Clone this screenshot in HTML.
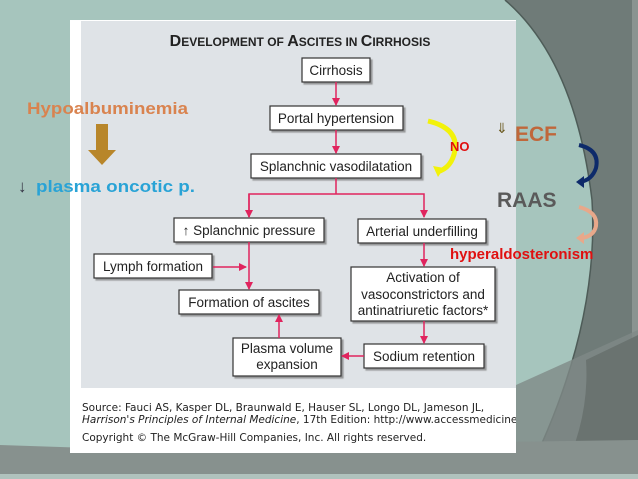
<!DOCTYPE html>
<html><head><style>
body{margin:0;width:638px;height:479px;overflow:hidden;background:#a6c5bd;}
</style></head><body>
<svg width="638" height="479" viewBox="0 0 638 479" xmlns="http://www.w3.org/2000/svg" style="position:absolute;left:0;top:0">
<defs>
<marker id="a" markerWidth="8" markerHeight="8" refX="7" refY="4" orient="auto" markerUnits="userSpaceOnUse"><path d="M0,0 L8,4 L0,8 z" fill="#e0245e"/></marker>
<filter id="s"><feDropShadow dx="2" dy="2" stdDeviation="0.6" flood-color="#777" flood-opacity="0.7"/></filter>
<clipPath id="c"><rect x="70" y="20" width="446" height="433"/></clipPath>
</defs>
<rect width="638" height="479" fill="#a6c5bd"/>
<path d="M505,0 Q575,60 592,200 Q600,330 525,479 L638,479 L638,0 Z" fill="#6f7b78"/>
<path d="M505,0 Q575,60 592,200 Q600,330 525,479" fill="none" stroke="#4e5c58" stroke-width="1.5"/>
<rect x="632" y="0" width="6" height="479" fill="#8a9491"/>
<path d="M516,385 L638,330 L638,479 L516,479 Z" fill="#7f8a87" opacity="0.8"/>
<path d="M586,360 L638,335 L638,479 L560,479 Q590,420 586,360Z" fill="#6a7370"/>
<path d="M0,445 L90,448 L638,440 L638,479 L0,479 Z" fill="#87918e"/>
<rect x="0" y="474" width="638" height="5" fill="#b0c2bd"/>
<rect x="70" y="20" width="446" height="433" fill="#ffffff"/>
<rect x="81" y="21" width="435" height="367" fill="#dfe3e7"/>
<text x="300" y="46" text-anchor="middle" font-family="Liberation Sans,sans-serif" font-weight="bold" fill="#222"><tspan font-size="16">D</tspan><tspan font-size="12">EVELOPMENT OF </tspan><tspan font-size="16">A</tspan><tspan font-size="12">SCITES IN </tspan><tspan font-size="16">C</tspan><tspan font-size="12">IRRHOSIS</tspan></text>
<g fill="#fff" stroke="#333" stroke-width="1.2" filter="url(#s)">
<rect x="302" y="58" width="68" height="24"/>
<rect x="270" y="106" width="133" height="24"/>
<rect x="251" y="154" width="170" height="24"/>
<rect x="174" y="218" width="150" height="24"/>
<rect x="358" y="219" width="128" height="24"/>
<rect x="94" y="254" width="118" height="24"/>
<rect x="179" y="290" width="140" height="24"/>
<rect x="351" y="267" width="144" height="54"/>
<rect x="233" y="338" width="108" height="38"/>
<rect x="364" y="344" width="120" height="24"/>
</g>
<g font-family="Liberation Sans,sans-serif" font-size="13.5" fill="#222" text-anchor="middle">
<text x="336" y="75">Cirrhosis</text>
<text x="336" y="123">Portal hypertension</text>
<text x="336" y="171">Splanchnic vasodilatation</text>
<text x="249" y="235">↑ Splanchnic pressure</text>
<text x="422" y="236">Arterial underfilling</text>
<text x="153" y="271">Lymph formation</text>
<text x="249" y="307">Formation of ascites</text>
<text x="423" y="282">Activation of</text>
<text x="423" y="299">vasoconstrictors and</text>
<text x="423" y="315">antinatriuretic factors*</text>
<text x="287" y="353">Plasma volume</text>
<text x="287" y="369">expansion</text>
<text x="424" y="361">Sodium retention</text>
</g>
<g stroke="#e0245e" stroke-width="1.5" fill="none">
<line x1="336" y1="82" x2="336" y2="105" marker-end="url(#a)"/>
<line x1="336" y1="130" x2="336" y2="153" marker-end="url(#a)"/>
<line x1="336" y1="178" x2="336" y2="194"/>
<polyline points="249,217 249,194 424,194 424,217" marker-end="url(#a)"/>
<line x1="249" y1="194" x2="249" y2="217" marker-end="url(#a)"/>
<line x1="249" y1="242" x2="249" y2="289" marker-end="url(#a)"/>
<line x1="213" y1="267" x2="246" y2="267" marker-end="url(#a)"/>
<line x1="424" y1="243" x2="424" y2="266" marker-end="url(#a)"/>
<line x1="424" y1="321" x2="424" y2="343" marker-end="url(#a)"/>
<line x1="364" y1="356" x2="342" y2="356" marker-end="url(#a)"/>
<line x1="279" y1="338" x2="279" y2="315" marker-end="url(#a)"/>
</g>
<g font-family="DejaVu Sans,sans-serif" font-size="10.5" fill="#222" clip-path="url(#c)">
<text x="82" y="411">Source: Fauci AS, Kasper DL, Braunwald E, Hauser SL, Longo DL, Jameson JL,</text>
<text x="82" y="423"><tspan font-style="italic">Harrison's Principles of Internal Medicine</tspan>, 17th Edition: http://www.accessmedicine</text>
<text x="82" y="441">Copyright © The McGraw-Hill Companies, Inc. All rights reserved.</text>
</g>
<text x="27" y="114" font-family="Liberation Sans,sans-serif" font-weight="bold" font-size="17" fill="#d9834f" textLength="161" lengthAdjust="spacingAndGlyphs">Hypoalbuminemia</text>
<path d="M96,124 L108,124 L108,150 L116,150 L102,165 L88,150 L96,150 Z" fill="#b8862a"/>
<text x="18" y="192" font-family="Liberation Sans,sans-serif" font-size="17" fill="#334">↓</text>
<text x="36" y="192" font-family="Liberation Sans,sans-serif" font-weight="bold" font-size="17" fill="#29a3d6" textLength="159" lengthAdjust="spacingAndGlyphs">plasma oncotic  p.</text>
<path d="M428,121 Q458,128 455,150 Q452,168 437,172" fill="none" stroke="#f2f20a" stroke-width="5"/>
<path d="M433,166 L438,177 L444,168 Z" fill="#f2f20a"/>
<text x="450" y="151" font-family="Liberation Sans,sans-serif" font-weight="bold" font-size="13" fill="#e01010">NO</text>
<text x="496" y="133" font-family="Liberation Sans,sans-serif" font-size="14" fill="#6b5a20">⇓</text>
<text x="515" y="141" font-family="Liberation Sans,sans-serif" font-weight="bold" font-size="21" fill="#c0673a">ECF</text>
<path d="M579,145 Q600,150 596,168 Q592,180 580,182" fill="none" stroke="#0d2a6a" stroke-width="4"/>
<path d="M576,182 L584,176 L584,188 Z" fill="#0d2a6a"/>
<text x="497" y="207" font-family="Liberation Sans,sans-serif" font-weight="bold" font-size="21" fill="#5a5a5a">RAAS</text>
<path d="M579,207 Q598,212 596,226 Q594,236 582,238" fill="none" stroke="#e8a88a" stroke-width="4"/>
<path d="M576,238 L584,232 L584,244 Z" fill="#e8a88a"/>
<text x="450" y="259" font-family="Liberation Sans,sans-serif" font-weight="bold" font-size="15" fill="#e01010">hyperaldosteronism</text>
</svg>
</body></html>
